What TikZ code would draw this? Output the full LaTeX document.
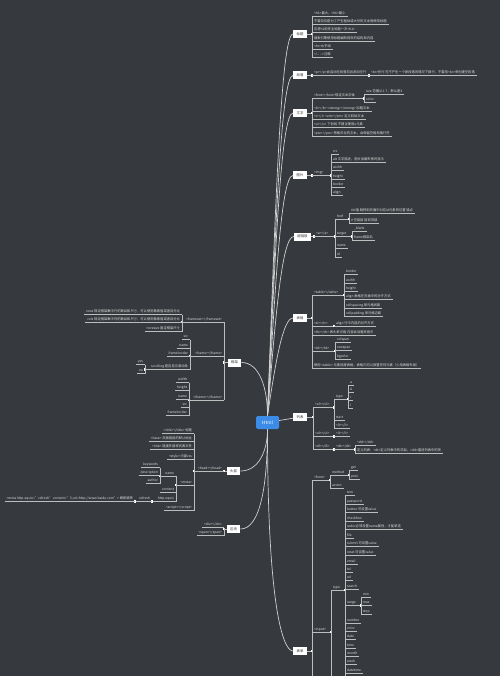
\documentclass[tikz,border=0pt]{standalone}
\usepackage{fontspec}
\setmainfont{Noto Sans CJK SC}
\usepackage{xcolor}
\usepackage{tikz}
\usetikzlibrary{positioning}

\definecolor{bgc}{HTML}{36393D}
\definecolor{rootblue}{HTML}{3C8CE7}
\definecolor{topictext}{HTML}{333333}
\definecolor{leaftext}{HTML}{DDDDDD}
\definecolor{trunkc}{HTML}{D0D0D0}
\definecolor{branchc}{HTML}{BDBDBD}

\begin{document}
\begin{tikzpicture}[x=1pt, y=-1pt,
    topic/.style={rectangle, fill=white, text=topictext, font=\fontsize{3.4}{4}\selectfont, inner xsep=3.4pt, inner ysep=0pt, minimum height=8pt},
    root/.style={rectangle, rounded corners=1.5pt, fill=rootblue, text=white, font=\fontsize{4.6}{5}\selectfont, minimum width=23pt, minimum height=13pt},
    leaf/.style={inner xsep=1.8pt, inner ysep=0.8pt, text height=2.6pt, text depth=0.7pt, font=\fontsize{3.3}{4}\selectfont, text=leaftext,
        append after command={(\tikzlastnode.south west) edge[branch] (\tikzlastnode.south east)}},
    leafr/.style={leaf, anchor=south west},
    leafl/.style={leaf, anchor=south east},
    junc/.style={rectangle, fill=white, minimum size=2.2pt, inner sep=0pt},
    trunk/.style={draw=trunkc, line width=0.7pt},
    branch/.style={draw=branchc, line width=0.5pt}]

    \fill[bgc] (0,0) rectangle (500,676);
    \clip (0,0) rectangle (500,676);

    % Centre and main topics
    \node[root] (html) at (267.5,422.5) {Html};
    \node[topic] (tit) at (300,34) {标题};
    \node[topic] (para) at (300,75.5) {段落};
    \node[topic] (txt) at (300,113) {文字};
    \node[topic] (img) at (300,175.5) {图片};
    \node[topic] (lnk) at (302.5,236.5) {超链接};
    \node[topic] (tab) at (300,318) {表格};
    \node[topic] (lst) at (300,417) {列表};
    \node[topic] (frm) at (300,651) {表单};
    \node[topic] (fra) at (234.5,362.5) {框架};
    \node[topic] (head) at (233.5,471) {头部};
    \node[topic] (blk) at (233.5,529) {区块};

    % Trunk curves
    \draw[trunk] (html.north) .. controls +(8,-210) and +(-12,0) .. (tit.west);
    \draw[trunk] (html.north) .. controls +(8,-187) and +(-12,0) .. (para.west);
    \draw[trunk] (html.north) .. controls +(8,-167) and +(-12,0) .. (txt.west);
    \draw[trunk] (html.north) .. controls +(8,-132) and +(-12,0) .. (img.west);
    \draw[trunk] (html.north) .. controls +(8,-99) and +(-12,0) .. (lnk.west);
    \draw[trunk] (html.north) .. controls +(8,-54) and +(-10,0) .. (tab.west);
    \draw[trunk] (html) -- (lst);
    \draw[trunk] (html.south) .. controls +(0,178) and +(-10,0) .. (frm.west);
    \draw[trunk] (fra.east) .. controls +(18,0) and +(0,-28) .. (html.north);
    \draw[trunk] (head.east) .. controls +(18,0) and +(0,22) .. (html.south);
    \draw[trunk] (blk.east) .. controls +(20,0) and +(0,55) .. (html.south);

    % 标题
    \node[junc] (j_tit) at (312,34) {};
    \node[leafr] (tit1) at (312,16) {<h1>最大，<h6>最小};
    \node[leafr] (tit2) at (312,24) {不要仅仅是为了产生粗体或大号的文本而使用标题};
    \node[leafr] (tit3) at (312,32.5) {应将h1用作主标题一次<h1>};
    \node[leafr] (tit4) at (312,41) {搜索引擎使用标题编制网页的结构和内容};
    \node[leafr] (tit5) at (312,49) {<hr>水平线};
    \node[leafr] (tit6) at (312,57) {<!-{}-{} -{}->注释};
    \draw[branch] (tit.east) -- (j_tit);
    \draw[branch] (tit1.south west) -- (tit6.south west);

    % 段落
    \node[junc] (j_para) at (312,75.5) {};
    \node[leafr] (para1) at (312,75.5) {<p></p>会自动在段落前后添加空行};
    \node[junc] (j_p) at (369,75.5) {};
    \node[leafr] (para2) at (369,75.5) {<br>折行 在不产生一个新段落的情况下换行，不要用<br>来创建空段落};
    \draw[branch] (para.east) -- (j_para);
    \draw[branch] (para1.south east) -- (j_p);

    % 文字
    \node[junc] (j_txt) at (312,113) {};
    \node[leafr] (txt1) at (312,98.5) {<font></font>规定文本字体};
    \node[leafr] (txt2) at (312,111.5) {<b></b> <strong></strong> 加粗文本};
    \node[leafr] (txt3) at (312,119.5) {<i></i> <em></em> 定义斜体文本};
    \node[leafr] (txt4) at (312,127.5) {<u></u> 下划线 不建议使用u元素};
    \node[leafr] (txt5) at (312,136.5) {<pre></pre> 预格式化的文本，会保留空格和换行符};
    \node[junc] (j_font) at (364,98.5) {};
    \node[leafr] (fnt1) at (364,94.5) {size 范围从1-7，默认是3};
    \node[leafr] (fnt2) at (364,102.5) {color};
    \draw[branch] (txt.east) -- (j_txt);
    \draw[branch] (txt1.south west) -- (txt5.south west);
    \draw[branch] (txt1.south east) -- (j_font);
    \draw[branch] (fnt1.south west) -- (fnt2.south west);

    % 图片
    \node[junc] (j_img) at (312,175.5) {};
    \node[leafr] (img1) at (312,175.5) {<img>};
    \node[junc] (j_imgtag) at (331,175.5) {};
    \node[leafr] (src) at (331,154.5) {src};
    \node[leafr] (alt) at (331,162.5) {alt 文字描述，图片加载失败时显示};
    \node[leafr] (iwd) at (331,170.5) {width};
    \node[leafr] (iht) at (331,179.5) {height};
    \node[leafr] (ibd) at (331,187.5) {border};
    \node[leafr] (ial) at (331,195.5) {align};
    \draw[branch] (img.east) -- (j_img);
    \draw[branch] (img1.south east) -- (j_imgtag);
    \draw[branch] (src.south west) -- (ial.south west);

    % 超链接
    \node[junc] (j_lnk) at (314,236.5) {};
    \node[leafr] (a1) at (314,236.5) {<a></a>};
    \node[junc] (j_a) at (335,236.5) {};
    \node[leafr] (href) at (335,219) {href};
    \node[leafr] (target) at (335,236.5) {target};
    \node[leafr] (aname) at (335,248.5) {name};
    \node[leafr] (aid) at (335,257) {id};
    \node[junc] (j_href) at (349,219) {};
    \node[leafr] (href1) at (349,213.5) {\#id值 跳转到页面中对应id元素的位置 锚点};
    \node[leafr] (href2) at (349,223) {\# 空链接 回到顶部};
    \node[junc] (j_target) at (352,236.5) {};
    \node[leafr] (tg1) at (352,231) {\_blank};
    \node[leafr] (tg2) at (352,240) {frame框架名};
    \draw[branch] (lnk.east) -- (j_lnk);
    \draw[branch] (a1.south east) -- (j_a);
    \draw[branch] (href.south west) -- (aid.south west);
    \draw[branch] (href.south east) -- (j_href);
    \draw[branch] (href1.south west) -- (href2.south west);
    \draw[branch] (target.south east) -- (j_target);
    \draw[branch] (tg1.south west) -- (tg2.south west);

    % 表格
    \node[junc] (j_tab) at (312,318) {};
    \node[leafr] (tab1) at (312,295) {<table></table>};
    \node[leafr] (tab2) at (312,326) {<tr></tr>};
    \node[leafr] (tab3) at (312,335) {<th></th> 表头单元格 内容会加粗并居中};
    \node[leafr] (tab4) at (312,351) {<td></td>};
    \node[leafr] (tab5) at (312,368) {使用 <table> 元素创建表格，表格内可以放置任何元素（少用表格布局）};
    \node[junc] (j_table) at (344,295) {};
    \node[leafr] (tb1) at (344,274.5) {border};
    \node[leafr] (tb2) at (344,283) {width};
    \node[leafr] (tb3) at (344,291.5) {height};
    \node[leafr] (tb4) at (344,299.5) {align 表格在页面中的对齐方式};
    \node[leafr] (tb5) at (344,308) {cellspacing 单元格间距};
    \node[leafr] (tb6) at (344,316.5) {cellpadding 单元格边距};
    \node[junc] (j_tr) at (334,326) {};
    \node[leafr] (tr1) at (334,326) {align 行中内容的对齐方式};
    \node[junc] (j_td) at (335,351) {};
    \node[leafr] (td1) at (335,342) {colspan};
    \node[leafr] (td2) at (335,350) {rowspan};
    \node[leafr] (td3) at (335,359) {bgcolor};
    \draw[branch] (tab.east) -- (j_tab);
    \draw[branch] (tab1.south west) -- (tab5.south west);
    \draw[branch] (tab1.south east) -- (j_table);
    \draw[branch] (tb1.south west) -- (tb6.south west);
    \draw[branch] (tab2.south east) -- (j_tr);
    \draw[branch] (tab4.south east) -- (j_td);
    \draw[branch] (td1.south west) -- (td3.south west);

    % 列表
    \node[junc] (j_lst) at (313,417) {};
    \node[leafr] (ol) at (313,407.5) {<ol></ol>};
    \node[leafr] (ul) at (313,436.5) {<ul></ul>};
    \node[leafr] (dl) at (313,449.5) {<dl></dl>};
    \node[junc] (j_ol) at (334,407.5) {};
    \node[leafr] (oltype) at (334,399) {type};
    \node[leafr] (olstart) at (334,420) {start};
    \node[leafr] (olli) at (334,428) {<li></li>};
    \node[junc] (j_type) at (348,399) {};
    \node[leafr] (ty1) at (348,385.5) {a};
    \node[leafr] (ty2) at (348,392.5) {A};
    \node[leafr] (ty3) at (348,400.5) {i};
    \node[leafr] (ty4) at (348,408.5) {I};
    \node[junc] (j_ul) at (334,436.5) {};
    \node[leafr] (ulli) at (334,436.5) {<li></li>};
    \node[junc] (j_dl) at (334,449.5) {};
    \node[leafr] (dt) at (334,449.5) {<dt></dt>};
    \node[junc] (j_dt) at (355,449.5) {};
    \node[leafr] (dd) at (355,445) {<dd></dd>};
    \node[leafr] (dlnote) at (355,453.5) {定义列表：<dt>定义列表中的项目，<dd>描述列表中的项};
    \draw[branch] (lst.east) -- (j_lst);
    \draw[branch] (ol.south west) -- (dl.south west);
    \draw[branch] (ol.south east) -- (j_ol);
    \draw[branch] (oltype.south west) -- (olli.south west);
    \draw[branch] (oltype.south east) -- (j_type);
    \draw[branch] (ty1.south west) -- (ty4.south west);
    \draw[branch] (ul.south east) -- (j_ul);
    \draw[branch] (dl.south east) -- (j_dl);
    \draw[branch] (dt.south east) -- (j_dt);
    \draw[branch] (dd.south west) -- (dlnote.south west);

    % 表单
    \node[junc] (j_frm) at (312,651) {};
    \coordinate (frm_end) at (312,690);
    \node[leafr] (form) at (312,480) {<form>};
    \node[leafr] (input) at (312,632) {<input>};
    \node[junc] (j_form) at (330,480) {};
    \node[leafr] (method) at (330,475) {method};
    \node[leafr] (action) at (330,488) {action};
    \node[junc] (j_method) at (349,475) {};
    \node[leafr] (get) at (349,470.5) {get};
    \node[leafr] (post) at (349,479.5) {post};
    \node[junc] (j_input) at (331,632) {};
    \coordinate (input_end) at (331,690);
    \node[leafr] (itype) at (331,590) {type};
    \node[junc] (j_itype) at (345,590) {};
    \coordinate (itype_end) at (345,690);
    \node[leafr] (in1) at (345,495.5) {text};
    \node[leafr] (in2) at (345,504) {password};
    \node[leafr] (in3) at (345,512.5) {button 可设置value};
    \node[leafr] (in4) at (345,521) {checkbox};
    \node[leafr] (in5) at (345,529.5) {radio 必须设置name属性，才能单选};
    \node[leafr] (in6) at (345,538) {file};
    \node[leafr] (in7) at (345,546.5) {submit 可设置value};
    \node[leafr] (in8) at (345,555) {reset 可设置value};
    \node[leafr] (in9) at (345,564) {email};
    \node[leafr] (in10) at (345,572.5) {tel};
    \node[leafr] (in11) at (345,580.5) {url};
    \node[leafr] (in12) at (345,589.5) {search};
    \node[leafr] (in13) at (345,605.5) {range};
    \node[leafr] (in14) at (345,623.5) {number};
    \node[leafr] (in15) at (345,631.5) {color};
    \node[leafr] (in16) at (345,639.5) {date};
    \node[leafr] (in17) at (345,648.5) {time};
    \node[leafr] (in18) at (345,656.5) {month};
    \node[leafr] (in19) at (345,664.5) {week};
    \node[leafr] (in20) at (345,673.5) {datetime};
    \node[junc] (j_range) at (361,605.5) {};
    \node[leafr] (rg1) at (361,597.5) {min};
    \node[leafr] (rg2) at (361,605.5) {max};
    \node[leafr] (rg3) at (361,614.5) {step};
    \draw[branch] (frm.east) -- (j_frm);
    \draw[branch] (form.south west) -- (frm_end);
    \draw[branch] (form.south east) -- (j_form);
    \draw[branch] (method.south west) -- (action.south west);
    \draw[branch] (method.south east) -- (j_method);
    \draw[branch] (get.south west) -- (post.south west);
    \draw[branch] (input.south east) -- (j_input);
    \draw[branch] (itype.south west) -- (input_end);
    \draw[branch] (itype.south east) -- (j_itype);
    \draw[branch] (in1.south west) -- (itype_end);
    \draw[branch] (in13.south east) -- (j_range);
    \draw[branch] (rg1.south west) -- (rg3.south west);

    % 框架
    \node[junc] (j_fra) at (224,362.5) {};
    \node[leafl] (fset) at (224,322) {<frameset></frameset>};
    \node[leafl] (frame) at (224,356) {<frame></frame>};
    \node[leafl] (ifr) at (224,400) {<iframe></iframe>};
    \node[junc] (j_fset) at (182,322) {};
    \node[leafl] (fs1) at (182,314.5) {rows 规定框架集中行的数目和尺寸，可以使用像素值或者百分比};
    \node[leafl] (fs2) at (182,322) {cols 规定框架集中列的数目和尺寸，可以使用像素值或者百分比};
    \node[leafl] (fs3) at (182,331.5) {noresize 固定框架尺寸};
    \node[junc] (j_frame) at (190,356) {};
    \node[leafl] (fr1) at (190,339.5) {src};
    \node[leafl] (fr2) at (190,348) {name};
    \node[leafl] (fr3) at (190,356) {frameborder};
    \node[leafl] (fr4) at (190,369.5) {scrolling 是否显示滚动条};
    \node[junc] (j_scroll) at (145,369.5) {};
    \node[leafl] (sc1) at (145,364.5) {yes};
    \node[leafl] (sc2) at (145,373.5) {no};
    \node[junc] (j_ifr) at (189,400) {};
    \node[leafl] (if1) at (189,382.5) {width};
    \node[leafl] (if2) at (189,390.5) {height};
    \node[leafl] (if3) at (189,399.5) {name};
    \node[leafl] (if4) at (189,407.5) {src};
    \node[leafl] (if5) at (189,415.5) {frameborder};
    \draw[branch] (fra.west) -- (j_fra);
    \draw[branch] (fset.south east) -- (ifr.south east);
    \draw[branch] (fset.south west) -- (j_fset);
    \draw[branch] (fs1.south east) -- (fs3.south east);
    \draw[branch] (frame.south west) -- (j_frame);
    \draw[branch] (fr1.south east) -- (fr4.south east);
    \draw[branch] (fr4.south west) -- (j_scroll);
    \draw[branch] (sc1.south east) -- (sc2.south east);
    \draw[branch] (ifr.south west) -- (j_ifr);
    \draw[branch] (if1.south east) -- (if5.south east);

    % 头部
    \node[junc] (j_head) at (224,471) {};
    \node[leafl] (hd) at (224,471) {<head></head>};
    \node[junc] (j_hd) at (194,471) {};
    \node[leafl] (hd1) at (194,433.5) {<title></title> 标题};
    \node[leafl] (hd2) at (194,441.5) {<base> 页面链接的默认地址};
    \node[leafl] (hd3) at (194,449.5) {<link> 链接外部样式表文件};
    \node[leafl] (hd4) at (194,459.5) {<style> 内部css};
    \node[leafl] (meta) at (194,485) {<meta>};
    \node[leafl] (hd6) at (194,510.5) {<script></script>};
    \node[junc] (j_meta) at (176,485) {};
    \node[leafl] (mname) at (176,476) {name};
    \node[leafl] (mcont) at (176,492.5) {content};
    \node[leafl] (mhttp) at (176,501.5) {http-equiv};
    \node[junc] (j_mname) at (160,476) {};
    \node[leafl] (mn1) at (160,467.5) {keywords};
    \node[leafl] (mn2) at (160,475.5) {description};
    \node[leafl] (mn3) at (160,483.5) {author};
    \node[junc] (j_mhttp) at (152,501.5) {};
    \node[leafl] (refresh) at (152,501.5) {refresh};
    \node[junc] (j_refresh) at (135,501.5) {};
    \node[leafl] (rf1) at (135,501.5) {<meta http-equiv="refresh" content="5;url=http://www.baidu.com"> 刷新跳转};
    \draw[branch] (head.west) -- (j_head);
    \draw[branch] (hd.south west) -- (j_hd);
    \draw[branch] (hd1.south east) -- (hd6.south east);
    \draw[branch] (meta.south west) -- (j_meta);
    \draw[branch] (mname.south east) -- (mhttp.south east);
    \draw[branch] (mname.south west) -- (j_mname);
    \draw[branch] (mn1.south east) -- (mn3.south east);
    \draw[branch] (mhttp.south west) -- (j_mhttp);
    \draw[branch] (refresh.south west) -- (j_refresh);

    % 区块
    \node[junc] (j_blk) at (224,529) {};
    \node[leafl] (div) at (224,527.5) {<div></div>};
    \node[leafl] (span) at (224,535.5) {<span></span>};
    \draw[branch] (blk.west) -- (j_blk);
    \draw[branch] (div.south east) -- (span.south east);
\end{tikzpicture}
\end{document}
